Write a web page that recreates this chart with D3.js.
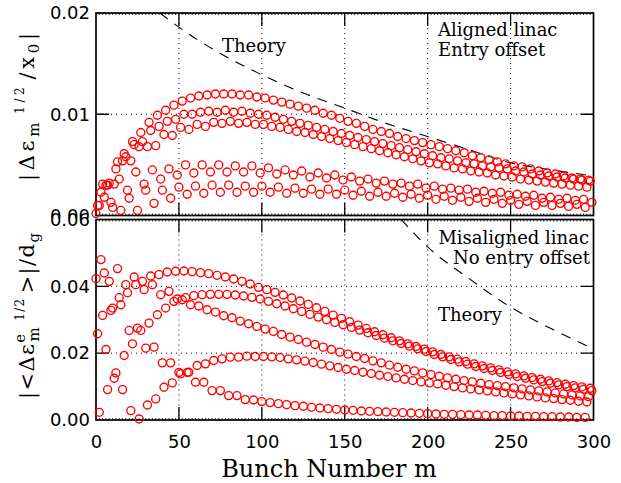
<!DOCTYPE html>
<html>
<head>
<meta charset="utf-8">
<script src="https://cdn.jsdelivr.net/npm/d3@7"></script>
<style>
  body { margin: 0; background: #fff; }
  svg { display: block; }
</style>
</head>
<body>
<div id="chart"></div>
<script>
// bunch number m of a series = start + 5 * index (betatron phase groups)
const step = 5;

// ---- top panel: aligned linac, entry offset ----
const topA = [0.0010, 0.0030, 0.0046, 0.0061, 0.0073, 0.0082, 0.0092, 0.0099, 0.0104, 0.0109, 0.0113, 0.0116, 0.0118, 0.0119, 0.0120, 0.0120, 0.0120, 0.0119, 0.0119, 0.0117,
  0.0116, 0.0114, 0.0112, 0.0110, 0.0108, 0.0106, 0.0104, 0.0101, 0.0099, 0.0096, 0.0093, 0.0091, 0.0088, 0.0085, 0.0083, 0.0081, 0.0078, 0.0076, 0.0074, 0.0072,
  0.0070, 0.0068, 0.0066, 0.0064, 0.0062, 0.0059, 0.0057, 0.0055, 0.0053, 0.0051, 0.0049, 0.0048, 0.0046, 0.0044, 0.0042, 0.0041, 0.0039, 0.0037, 0.0036, 0.0035];
const topB = [0.0023, 0.0032, 0.0053, 0.0058, 0.0070, 0.0073, 0.0084, 0.0088, 0.0093, 0.0095, 0.0100, 0.0100, 0.0102, 0.0103, 0.0102, 0.0104, 0.0102, 0.0103, 0.0101, 0.0100,
  0.0099, 0.0097, 0.0095, 0.0093, 0.0091, 0.0089, 0.0087, 0.0085, 0.0083, 0.0081, 0.0079, 0.0077, 0.0075, 0.0073, 0.0071, 0.0069, 0.0067, 0.0065, 0.0063, 0.0061,
  0.0059, 0.0057, 0.0056, 0.0054, 0.0052, 0.0051, 0.0049, 0.0048, 0.0047, 0.0046, 0.0044, 0.0043, 0.0041, 0.0040, 0.0039, 0.0038, 0.0037, 0.0036, 0.0035, 0.0034];
const topC = [0.0010, 0.0030, 0.0031, 0.0054, 0.0054, 0.0068, 0.0068, 0.0069, 0.0080, 0.0079, 0.0087, 0.0085, 0.0090, 0.0088, 0.0092, 0.0091, 0.0093, 0.0091, 0.0092, 0.0090,
  0.0090, 0.0088, 0.0087, 0.0085, 0.0083, 0.0082, 0.0080, 0.0078, 0.0076, 0.0074, 0.0072, 0.0070, 0.0068, 0.0066, 0.0064, 0.0062, 0.0060, 0.0058, 0.0056, 0.0054,
  0.0052, 0.0051, 0.0049, 0.0047, 0.0046, 0.0044, 0.0043, 0.0042, 0.0040, 0.0039, 0.0038, 0.0036, 0.0035, 0.0034, 0.0033, 0.0032, 0.0031, 0.0030, 0.0029, 0.0028];
const topD = [0.0031, 0.0013, 0.0036, 0.0025, 0.0043, 0.0031, 0.0045, 0.0036, 0.0046, 0.0040, 0.0050, 0.0042, 0.0050, 0.0043, 0.0050, 0.0043, 0.0049, 0.0043, 0.0049, 0.0042,
  0.0047, 0.0041, 0.0045, 0.0040, 0.0044, 0.0038, 0.0042, 0.0037, 0.0040, 0.0035, 0.0038, 0.0034, 0.0036, 0.0032, 0.0034, 0.0031, 0.0032, 0.0029, 0.0031, 0.0027,
  0.0029, 0.0026, 0.0027, 0.0025, 0.0026, 0.0023, 0.0024, 0.0022, 0.0023, 0.0020, 0.0021, 0.0019, 0.0020, 0.0017, 0.0018, 0.0016, 0.0017, 0.0015, 0.0016, 0.0013];
const topE = [0.0002, 0.0018, 0.0008, 0.0005, 0.0017, 0.0005, 0.0025, 0.0012, 0.0025, 0.0017, 0.0028, 0.0021, 0.0029, 0.0022, 0.0030, 0.0023, 0.0030, 0.0023, 0.0029, 0.0023,
  0.0029, 0.0023, 0.0028, 0.0022, 0.0027, 0.0022, 0.0026, 0.0021, 0.0026, 0.0021, 0.0025, 0.0020, 0.0024, 0.0019, 0.0023, 0.0019, 0.0022, 0.0018, 0.0021, 0.0017,
  0.0020, 0.0016, 0.0019, 0.0015, 0.0018, 0.0014, 0.0017, 0.0013, 0.0016, 0.0012, 0.0015, 0.0011, 0.0014, 0.0010, 0.0013, 0.0010, 0.0012, 0.0009, 0.0011, 0.0008];
const topSeries = [
  { start: 2, values: topA },
  { start: 3, values: topB },
  { start: 1, values: topC },
  { start: 4, values: topD },
  { start: 0, values: topE }
];
const theoryTopM = [38.5, 50, 75, 100, 125, 150, 175, 200, 225, 250, 275, 300];
const theoryTopV = [0.0200, 0.0186, 0.0160, 0.0139, 0.0121, 0.0106, 0.0091, 0.0078, 0.0065, 0.0052, 0.0045, 0.0039];

// ---- bottom panel: misaligned linac, no entry offset ----
const botS1 = [0.0480, 0.0415, 0.0453, 0.0405, 0.0428, 0.0415, 0.0431, 0.0435, 0.0443, 0.0445, 0.0446, 0.0444, 0.0441, 0.0438, 0.0433, 0.0428, 0.0422, 0.0415, 0.0407, 0.0397,
  0.0390, 0.0382, 0.0374, 0.0365, 0.0356, 0.0346, 0.0336, 0.0325, 0.0314, 0.0304, 0.0294, 0.0284, 0.0274, 0.0264, 0.0255, 0.0246, 0.0237, 0.0228, 0.0220, 0.0212,
  0.0204, 0.0196, 0.0189, 0.0182, 0.0175, 0.0168, 0.0162, 0.0156, 0.0150, 0.0144, 0.0138, 0.0132, 0.0127, 0.0122, 0.0117, 0.0112, 0.0107, 0.0103, 0.0099, 0.0095];
const botS2 = [0.0313, 0.0328, 0.0366, 0.0381, 0.0405, 0.0390, 0.0405, 0.0375, 0.0385, 0.0362, 0.0366, 0.0372, 0.0375, 0.0376, 0.0376, 0.0376, 0.0374, 0.0371, 0.0367, 0.0362,
  0.0355, 0.0348, 0.0341, 0.0333, 0.0325, 0.0316, 0.0308, 0.0300, 0.0292, 0.0285, 0.0277, 0.0269, 0.0261, 0.0253, 0.0245, 0.0237, 0.0229, 0.0221, 0.0213, 0.0205,
  0.0196, 0.0189, 0.0181, 0.0174, 0.0167, 0.0160, 0.0154, 0.0148, 0.0142, 0.0136, 0.0130, 0.0125, 0.0120, 0.0115, 0.0110, 0.0105, 0.0100, 0.0096, 0.0092, 0.0088];
const botS3 = [0.0023, 0.0091, 0.0141, 0.0193, 0.0228, 0.0268, 0.0290, 0.0315, 0.0335, 0.0355, 0.0360, 0.0345, 0.0341, 0.0330, 0.0323, 0.0312, 0.0306, 0.0296, 0.0288, 0.0280,
  0.0272, 0.0265, 0.0256, 0.0248, 0.0241, 0.0233, 0.0226, 0.0218, 0.0211, 0.0203, 0.0197, 0.0190, 0.0184, 0.0177, 0.0171, 0.0164, 0.0158, 0.0152, 0.0147, 0.0141,
  0.0136, 0.0131, 0.0126, 0.0122, 0.0118, 0.0114, 0.0110, 0.0106, 0.0103, 0.0100, 0.0096, 0.0093, 0.0090, 0.0087, 0.0084, 0.0081, 0.0078, 0.0075, 0.0072, 0.0070];
const botS4 = [0.0258, 0.0211, 0.0125, 0.0091, 0.0028, 0.0003, 0.0045, 0.0063, 0.0098, 0.0111, 0.0138, 0.0143, 0.0163, 0.0168, 0.0178, 0.0183, 0.0188, 0.0188, 0.0191, 0.0190,
  0.0190, 0.0189, 0.0187, 0.0183, 0.0180, 0.0176, 0.0172, 0.0167, 0.0162, 0.0157, 0.0152, 0.0148, 0.0143, 0.0139, 0.0134, 0.0130, 0.0126, 0.0122, 0.0118, 0.0114,
  0.0111, 0.0108, 0.0104, 0.0100, 0.0096, 0.0093, 0.0090, 0.0087, 0.0084, 0.0081, 0.0078, 0.0075, 0.0072, 0.0069, 0.0066, 0.0064, 0.0061, 0.0059, 0.0056, 0.0054];
const botS5 = [0.0423, 0.0440, 0.0335, 0.0345, 0.0268, 0.0275, 0.0215, 0.0218, 0.0171, 0.0171, 0.0142, 0.0142, 0.0113, 0.0113, 0.0088, 0.0088, 0.0073, 0.0073, 0.0061, 0.0060,
  0.0055, 0.0052, 0.0049, 0.0046, 0.0043, 0.0041, 0.0038, 0.0036, 0.0034, 0.0032, 0.0030, 0.0029, 0.0027, 0.0026, 0.0025, 0.0024, 0.0023, 0.0022, 0.0021, 0.0020,
  0.0019, 0.0018, 0.0017, 0.0017, 0.0016, 0.0015, 0.0015, 0.0014, 0.0013, 0.0013, 0.0012, 0.0012, 0.0011, 0.0011, 0.0010, 0.0010, 0.0009, 0.0009, 0.0008, 0.0008];
const botSeries = [
  { start: 3, values: botS1 },
  { start: 4, values: botS2 },
  { start: 2, values: botS3 },
  { start: 1, values: botS4 },
  { start: 0, values: botS5 }
];
const theoryBotM = [184, 200, 225, 250, 275, 300];
const theoryBotV = [0.0600, 0.0518, 0.0423, 0.0338, 0.0272, 0.0213];

const xTicks = [0, 50, 100, 150, 200, 250, 300];
const topTicks = [0, 0.01, 0.02];
const botTicks = [0, 0.02, 0.04, 0.06];

const W = 621, H = 483;
const serif = "'DejaVu Serif', serif";
const sans = "'DejaVu Sans', sans-serif";

const svg = d3.select("#chart").append("svg")
  .attr("width", W)
  .attr("height", H);

const x = d3.scaleLinear().domain([0, 300]).range([96, 593.5]);

function drawPanel(p) {
  const y = d3.scaleLinear().domain(p.domain).range([p.bottom, p.top]);
  const g = svg.append("g");

  // white background (covers what sticks out of the panel above)
  g.append("rect")
    .attr("x", 0).attr("y", p.top - 1)
    .attr("width", W).attr("height", p.coverH)
    .attr("fill", "#fff");

  // dotted grid
  g.selectAll(".vgrid")
    .data(xTicks.slice(1, -1))
    .join("line")
    .attr("x1", d => x(d)).attr("x2", d => x(d))
    .attr("y1", p.top).attr("y2", p.bottom)
    .attr("stroke", "#000").attr("stroke-width", 1)
    .attr("stroke-dasharray", "1,4");
  g.selectAll(".hgrid")
    .data(p.ticks.slice(1, -1))
    .join("line")
    .attr("x1", x(0)).attr("x2", x(300))
    .attr("y1", d => y(d)).attr("y2", d => y(d))
    .attr("stroke", "#000").attr("stroke-width", 1)
    .attr("stroke-dasharray", "1,4");

  // major ticks on all four sides
  const tl = 13;
  g.selectAll(".xt")
    .data(xTicks.slice(1, -1))
    .join("path")
    .attr("d", d => `M${x(d)},${p.bottom}v${-tl}M${x(d)},${p.top}v${tl}`)
    .attr("stroke", "#000").attr("stroke-width", 1.3);
  g.selectAll(".yt")
    .data(p.ticks.slice(1, -1))
    .join("path")
    .attr("d", d => `M${x(0)},${y(d)}h${tl}M${x(300)},${y(d)}h${-tl}`)
    .attr("stroke", "#000").attr("stroke-width", 1.3);
  // small minor ticks
  g.selectAll(".mt")
    .data(d3.range(2, 300, 2))
    .join("path")
    .attr("d", d => `M${x(d)},${p.bottom}v-2M${x(d)},${p.top}v2`)
    .attr("stroke", "#000").attr("stroke-width", 0.8);

  // frame
  g.append("rect")
    .attr("x", x(0)).attr("y", p.top)
    .attr("width", x(300) - x(0)).attr("height", p.bottom - p.top)
    .attr("fill", "none").attr("stroke", "#000").attr("stroke-width", 1.7);

  // y tick labels
  const ax = g.append("g")
    .attr("transform", `translate(${x(0)},0)`)
    .call(d3.axisLeft(y).tickValues(p.ticks).tickFormat(d3.format(".2f")).tickSize(0).tickPadding(6));
  ax.select(".domain").remove();
  ax.selectAll("text")
    .attr("font-family", sans).attr("font-size", 18).attr("fill", "#000");

  // theory curve
  const line = d3.line()
    .x(d => x(d[0]))
    .y(d => y(d[1]))
    .curve(d3.curveMonotoneX);
  g.append("path")
    .datum(d3.zip(p.theoryM, p.theoryV))
    .attr("d", line)
    .attr("fill", "none")
    .attr("stroke", "#000").attr("stroke-width", 1.1)
    .attr("stroke-dasharray", "10,8");

  // simulation points
  const pts = p.series.flatMap(s => s.values.map((v, i) => ({ m: s.start + step * i, v })));
  g.selectAll("circle")
    .data(pts)
    .join("circle")
    .attr("cx", d => x(d.m))
    .attr("cy", d => y(d.v))
    .attr("r", 4)
    .attr("fill", "none")
    .attr("stroke", "#ff0000")
    .attr("stroke-width", 1.35);

  // annotations
  p.notes.forEach(n => {
    g.append("text")
      .attr("x", n.x).attr("y", n.y)
      .attr("text-anchor", n.anchor || "start")
      .attr("font-family", serif).attr("font-size", 18)
      .text(n.text);
  });
  return g;
}

drawPanel({
  domain: [0, 0.02], top: 13, bottom: 215.5, coverH: 210,
  ticks: topTicks, series: topSeries,
  theoryM: theoryTopM, theoryV: theoryTopV,
  notes: [
    { text: "Theory", x: 222, y: 52 },
    { text: "Aligned linac", x: 438, y: 36 },
    { text: "Entry offset", x: 438, y: 56 }
  ]
});

drawPanel({
  domain: [0, 0.06], top: 219.5, bottom: 420, coverH: 200,
  ticks: botTicks, series: botSeries,
  theoryM: theoryBotM, theoryV: theoryBotV,
  notes: [
    { text: "Misaligned linac", x: 589, y: 244, anchor: "end" },
    { text: "No entry offset", x: 590, y: 264, anchor: "end" },
    { text: "Theory", x: 438, y: 321 }
  ]
});

// x tick labels
const xa = svg.append("g")
  .attr("transform", "translate(0,420)")
  .call(d3.axisBottom(x).tickValues(xTicks).tickSize(0).tickPadding(15));
xa.select(".domain").remove();
xa.selectAll("text")
  .attr("font-family", sans).attr("font-size", 18).attr("fill", "#000");

// axis titles
svg.append("text")
  .attr("x", 329).attr("y", 477)
  .attr("text-anchor", "middle")
  .attr("font-family", serif).attr("font-size", 24)
  .text("Bunch Number m");

const yt1 = svg.append("text")
  .attr("transform", "translate(34,107) rotate(-90)")
  .attr("text-anchor", "middle")
  .attr("font-family", serif).attr("font-size", 21)
  .attr("textLength", 148).attr("lengthAdjust", "spacing");
yt1.append("tspan").text("|Δε");
yt1.append("tspan").attr("font-size", 15).attr("dy", 5).text("m");
yt1.append("tspan").attr("font-size", 12).attr("dx", 5).attr("dy", -15).text("1/2");
yt1.append("tspan").attr("dx", 4).attr("dy", 10).text("/x");
yt1.append("tspan").attr("font-size", 15).attr("dy", 5).text("0");
yt1.append("tspan").attr("dy", -5).text("|");

const yt2 = svg.append("text")
  .attr("transform", "translate(34,316) rotate(-90)")
  .attr("text-anchor", "middle")
  .attr("font-family", serif).attr("font-size", 21)
  .attr("textLength", 166).attr("lengthAdjust", "spacing");
yt2.append("tspan").text("|<Δε");
yt2.append("tspan").attr("font-size", 15).attr("dy", -9).text("e");
yt2.append("tspan").attr("font-size", 15).attr("dx", -9).attr("dy", 14).text("m");
yt2.append("tspan").attr("font-size", 12).attr("dx", 5).attr("dy", -15).text("1/2");
yt2.append("tspan").attr("dx", 4).attr("dy", 10).text(">|/d");
yt2.append("tspan").attr("font-size", 15).attr("dy", 5).text("g");
</script>
</body>
</html>
